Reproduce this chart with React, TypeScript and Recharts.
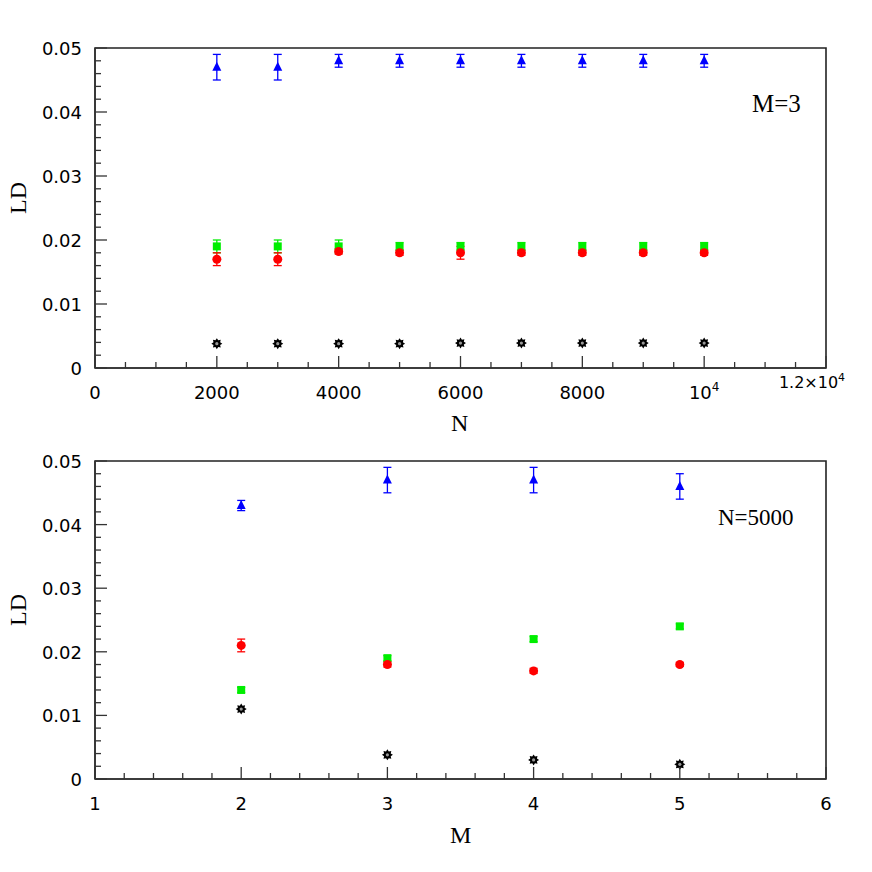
import React from 'react';
import { ScatterChart, Scatter, XAxis, YAxis, ErrorBar, ReferenceArea } from 'recharts';

// top panel: LD vs N at M=3
const nValues = [2000, 3000, 4000, 5000, 6000, 7000, 8000, 9000, 10000];
const topBlue = [0.047, 0.047, 0.048, 0.048, 0.048, 0.048, 0.048, 0.048, 0.048];
const topBlueErr = [0.002, 0.002, 0.001, 0.001, 0.001, 0.001, 0.001, 0.001, 0.001];
const topGreen = [0.019, 0.019, 0.019, 0.019, 0.019, 0.019, 0.019, 0.019, 0.019];
const topGreenErr = [0.001, 0.001, 0.001, 0.0006, 0.0006, 0.0006, 0.0006, 0.0006, 0.0006];
const topRed = [0.017, 0.017, 0.0182, 0.018, 0.018, 0.018, 0.018, 0.018, 0.018];
const topRedErr = [0.001, 0.001, 0.0004, 0.0004, 0.001, 0.0004, 0.0004, 0.0004, 0.0004];
const topBlack = [0.0038, 0.0038, 0.0038, 0.0038, 0.0039, 0.0039, 0.0039, 0.0039, 0.0039];

// bottom panel: LD vs M at N=5000
const mValues = [2, 3, 4, 5];
const botBlue = [0.043, 0.047, 0.047, 0.046];
const botBlueErr = [0.0008, 0.002, 0.002, 0.002];
const botRed = [0.021, 0.018, 0.017, 0.018];
const botRedErr = [0.001, 0.0004, 0.0004, 0.0003];
const botGreen = [0.014, 0.019, 0.022, 0.024];
const botGreenErr = [0.0004, 0.0004, 0.0004, 0.0004];
const botBlack = [0.011, 0.0038, 0.003, 0.0023];

const nMajorTicks = [0, 2000, 4000, 6000, 8000, 10000, 12000];
const mMajorTicks = [1, 2, 3, 4, 5, 6];
const ldMajorTicks = [0, 0.01, 0.02, 0.03, 0.04, 0.05];

const minorTicks = (majors: number[], parts: number) => {
  const out: number[] = [];
  for (let i = 0; i < majors.length - 1; i++) {
    const step = (majors[i + 1] - majors[i]) / parts;
    for (let k = 0; k < parts; k++) out.push(+(majors[i] + k * step).toFixed(6));
  }
  out.push(majors[majors.length - 1]);
  return out;
};

const rows = (xs: number[], ys: number[], errs?: number[]) =>
  xs.map((x, i) => ({ x, y: ys[i], err: errs ? errs[i] : 0 }));

const TICK_FONT = '"DejaVu Sans", sans-serif';
const SERIF = '"Liberation Serif", "DejaVu Serif", serif';

const isMajor = (v: number, majors: number[]) => majors.some(m => Math.abs(m - v) < 1e-9);

const makeXTick = (majors: number[], big: boolean) => (props: any) => {
  const { x, y, payload } = props;
  const v = payload.value;
  const major = isMajor(v, majors);
  let text: React.ReactNode = null;
  if (major) {
    if (big && v === 10000) {
      text = (
        <text x={x} y={y + 31} textAnchor="middle" fontFamily={TICK_FONT} fontSize={18}>
          10<tspan dy={-8} fontSize={12}>4</tspan>
        </text>
      );
    } else if (big && v === 12000) {
      text = (
        <text x={x - 14} y={y + 20} textAnchor="middle" fontFamily={TICK_FONT} fontSize={16}>
          1.2×10<tspan dy={-7} fontSize={11}>4</tspan>
        </text>
      );
    } else {
      text = (
        <text x={x} y={y + 31} textAnchor="middle" fontFamily={TICK_FONT} fontSize={18}>
          {String(v)}
        </text>
      );
    }
  }
  return (
    <g>
      <line x1={x} x2={x} y1={y} y2={y - (major ? 12 : 6)} stroke="#333" strokeWidth={1.3} />
      {text}
    </g>
  );
};

const YTick = (props: any) => {
  const { x, y, payload } = props;
  const major = isMajor(payload.value, ldMajorTicks);
  return (
    <g>
      <line x1={x} x2={x + (major ? 12 : 6)} y1={y} y2={y} stroke="#333" strokeWidth={1.3} />
      {major && (
        <text x={x - 13} y={y + 7} textAnchor="end" fontFamily={TICK_FONT} fontSize={18} fill="#000">
          {payload.value === 0 ? '0' : payload.value.toFixed(2)}
        </text>
      )}
    </g>
  );
};

const Triangle = (p: any) => (
  <polygon points={`${p.cx},${p.cy - 5.5} ${p.cx - 4.5},${p.cy + 3.5} ${p.cx + 4.5},${p.cy + 3.5}`} fill="#0000ff" />
);
const Dot = (p: any) => <circle cx={p.cx} cy={p.cy} r={4.5} fill="#ff0000" />;
const Square = (p: any) => <rect x={p.cx - 4} y={p.cy - 4} width={8} height={8} fill="#00ee00" />;
const Star = (p: any) => {
  const pts: string[] = [];
  for (let i = 0; i < 16; i++) {
    const r = i % 2 === 0 ? 5.5 : 3.6;
    const a = (Math.PI * i) / 8;
    pts.push(`${p.cx + r * Math.cos(a)},${p.cy + r * Math.sin(a)}`);
  }
  return (
    <g>
      <polygon points={pts.join(' ')} fill="#000" />
      <circle cx={p.cx} cy={p.cy} r={1.6} fill="#999" />
    </g>
  );
};

interface PanelProps {
  xs: number[];
  domain: [number, number];
  majors: number[];
  big: boolean;
  blue: number[]; blueErr: number[];
  green: number[]; greenErr: number[];
  red: number[]; redErr: number[];
  black: number[];
  margin: { top: number; right: number; bottom: number; left: number };
}

const Panel: React.FC<PanelProps> = ({ xs, domain, majors, big, blue, blueErr, green, greenErr, red, redErr, black, margin }) => (
  <ScatterChart width={872} height={436} margin={margin}>
    <XAxis
      type="number"
      dataKey="x"
      domain={domain}
      ticks={minorTicks(majors, big ? 4 : 5)}
      interval={0}
      tickSize={0}
      tickMargin={0}
      height={40}
      tick={makeXTick(majors, big)}
      axisLine={{ stroke: '#333', strokeWidth: 1.5 }}
      tickLine={false}
    />
    <YAxis
      type="number"
      dataKey="y"
      domain={[0, 0.05]}
      ticks={minorTicks(ldMajorTicks, 5)}
      interval={0}
      tickSize={0}
      tickMargin={0}
      width={95}
      tick={YTick}
      axisLine={{ stroke: '#333', strokeWidth: 1.5 }}
      tickLine={false}
    />
    <ReferenceArea x1={domain[0]} x2={domain[1]} y1={0} y2={0.05} fill="none" stroke="#222" strokeWidth={1.6} />
    <Scatter data={rows(xs, blue, blueErr)} shape={Triangle} isAnimationActive={false}>
      <ErrorBar dataKey="err" direction="y" width={4} stroke="#0000ff" strokeWidth={1.3} isAnimationActive={false} />
    </Scatter>
    <Scatter data={rows(xs, green, greenErr)} shape={Square} isAnimationActive={false}>
      <ErrorBar dataKey="err" direction="y" width={4} stroke="#00ee00" strokeWidth={1.3} isAnimationActive={false} />
    </Scatter>
    <Scatter data={rows(xs, red, redErr)} shape={Dot} isAnimationActive={false}>
      <ErrorBar dataKey="err" direction="y" width={4} stroke="#ff0000" strokeWidth={1.3} isAnimationActive={false} />
    </Scatter>
    <Scatter data={rows(xs, black)} shape={Star} isAnimationActive={false} />
  </ScatterChart>
);

const label = (text: string, left: number, top: number, size: number, extra: React.CSSProperties = {}) => (
  <div style={{ position: 'absolute', left, top, fontFamily: SERIF, fontSize: size, lineHeight: 1, whiteSpace: 'nowrap', ...extra }}>
    {text}
  </div>
);

const App: React.FC = () => (
  <div style={{ position: 'absolute', left: 0, top: 0, width: 872, height: 872, background: '#fff' }}>
    <div style={{ position: 'absolute', left: 0, top: 0 }}>
      <Panel
        xs={nValues}
        domain={[0, 12000]}
        majors={nMajorTicks}
        big={true}
        blue={topBlue} blueErr={topBlueErr}
        green={topGreen} greenErr={topGreenErr}
        red={topRed} redErr={topRedErr}
        black={topBlack}
        margin={{ top: 48, right: 46, bottom: 28, left: 0 }}
      />
    </div>
    <div style={{ position: 'absolute', left: 0, top: 436 }}>
      <Panel
        xs={mValues}
        domain={[1, 6]}
        majors={mMajorTicks}
        big={false}
        blue={botBlue} blueErr={botBlueErr}
        green={botGreen} greenErr={botGreenErr}
        red={botRed} redErr={botRedErr}
        black={botBlack}
        margin={{ top: 25, right: 46, bottom: 53, left: 0 }}
      />
    </div>
    {label('LD', 4, 188, 24, { transform: 'rotate(-90deg)', transformOrigin: '14px 12px' })}
    {label('LD', 4, 600, 24, { transform: 'rotate(-90deg)', transformOrigin: '14px 12px' })}
    {label('N', 451, 411, 24)}
    {label('M', 450, 823, 24)}
    {label('M=3', 752, 91, 25)}
    {label('N=5000', 718, 506, 23)}
  </div>
);

export default App;
